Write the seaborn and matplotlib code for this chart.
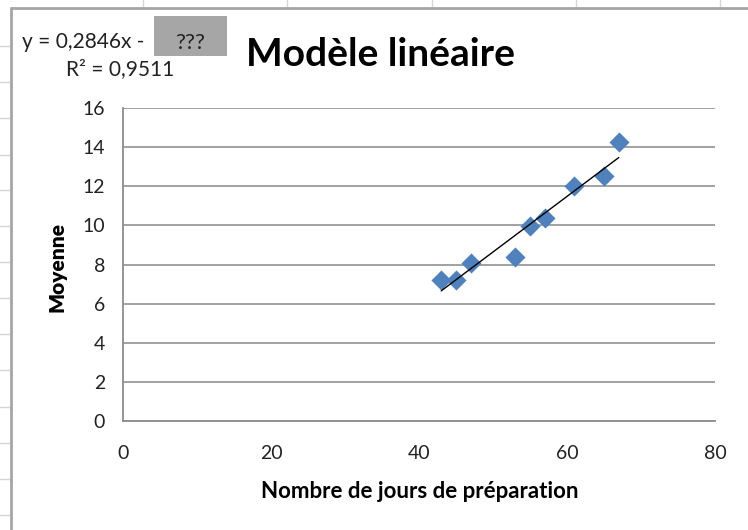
import matplotlib
matplotlib.use("Agg")
import matplotlib.pyplot as plt
import seaborn as sns
import pandas as pd
from matplotlib.lines import Line2D
from matplotlib.patches import Rectangle

# ---- data ----
jours = [43, 45, 47, 53, 55, 57, 61, 65, 67]
moyenne = [7.19, 7.19, 8.10, 8.38, 9.95, 10.40, 12.00, 12.50, 14.26]
x_ticks = [0, 20, 40, 60, 80]
y_ticks = [0, 2, 4, 6, 8, 10, 12, 14, 16]
title_text = "Modèle linéaire"
eq_text = "y = 0,2846x -"
hidden_text = "???"
r2_text = "R² = 0,9511"
x_label = "Nombre de jours de préparation"
y_label = "Moyenne"

sns.set_style("white")
plt.rcParams['font.family'] = ['Lato', 'DejaVu Sans']

W, H = 748, 530
fig = plt.figure(figsize=(W / 100, H / 100), dpi=100)
fig.patch.set_facecolor("white")

def fx(px):
    return px / W

def fy(py):
    return 1 - py / H

# spreadsheet background grid (decoration)
for xv in [143, 287, 432, 576, 720]:
    fig.add_artist(Line2D([fx(xv), fx(xv)], [fy(0), fy(8)], color="#d4d4d4", lw=1))
for yv in [46, 82, 118, 155, 190, 226, 262, 298, 334, 370, 407, 443, 479, 515]:
    fig.add_artist(Line2D([fx(0), fx(11)], [fy(yv), fy(yv)], color="#d4d4d4", lw=1))
# chart area border
fig.add_artist(Line2D([fx(11), fx(11)], [fy(8), fy(H)], color="#a6a6a6", lw=2))
fig.add_artist(Line2D([fx(11), fx(W)], [fy(8), fy(8)], color="#a6a6a6", lw=2))

ax = fig.add_axes([fx(123), fy(421), fx(715) - fx(123), fy(108) - fy(421)])
df = pd.DataFrame({"jours": jours, "moyenne": moyenne})

sns.scatterplot(data=df, x="jours", y="moyenne", ax=ax, marker="D", s=105,
                color="#4f81bd", edgecolor="#4f81bd", linewidth=0, zorder=3)
sns.regplot(data=df, x="jours", y="moyenne", ax=ax, scatter=False, ci=None,
            line_kws=dict(color="black", lw=1, zorder=4))

ax.set_xlim(0, 80)
ax.set_ylim(0, 16)
ax.set_xticks(x_ticks)
ax.set_yticks(y_ticks)
ax.yaxis.grid(True, color="#9a9a9a", lw=1.3)
ax.xaxis.grid(False)
ax.set_axisbelow(True)
for s in ["top", "right"]:
    ax.spines[s].set_visible(False)
for s in ["left", "bottom"]:
    ax.spines[s].set_color("#8c8c8c")
    ax.spines[s].set_linewidth(1.3)
ax.tick_params(axis="y", length=0, pad=13, labelsize=14, labelcolor="#222222")
ax.tick_params(axis="x", length=0, pad=17, labelsize=14, labelcolor="#222222")
ax.set_xlabel("")
ax.set_ylabel("")

fig.text(fx(420), fy(492), x_label, ha="center", va="center",
         fontsize=16, fontweight="bold", color="black")
fig.text(fx(57), fy(267), y_label, ha="center", va="center", rotation=90,
         fontsize=15, fontweight="heavy", color="black")

fig.text(fx(381), fy(55), title_text, ha="center", va="center",
         fontsize=28, fontweight="bold", color="black")

fig.text(fx(22), fy(42), eq_text, ha="left", va="center", fontsize=15, color="#222222")
fig.add_artist(Rectangle((fx(154), fy(56)), fx(227) - fx(154), fy(16) - fy(56),
                         transform=fig.transFigure, facecolor="#a6a6a6", edgecolor="none"))
fig.text(fx(190), fy(43), hidden_text, ha="center", va="center", fontsize=16, color="#222222")
fig.text(fx(120), fy(69), r2_text, ha="center", va="center", fontsize=15, color="#222222")

fig.savefig("out.png", dpi=100, facecolor="white")
